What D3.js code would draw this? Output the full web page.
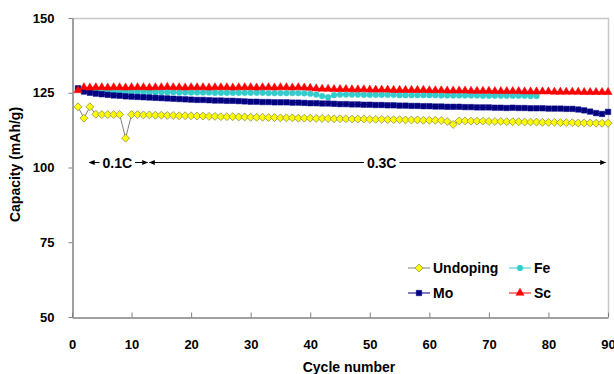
<!DOCTYPE html>
<html>
<head>
<meta charset="utf-8">
<script src="https://cdn.jsdelivr.net/npm/d3@7"></script>
<style>
  html, body { margin: 0; padding: 0; background: #fff; }
  svg { display: block; font-family: "Liberation Sans", Arial, sans-serif; font-weight: bold; }
</style>
</head>
<body>
<svg id="chart" width="614" height="374"></svg>
<script>
// Capacity (mAh/g) per cycle, cycle numbers start at 1
const undoping = [
  120.3, 116.5, 120.3, 117.8, 117.7, 117.7, 117.7, 117.7, 109.8, 117.7,
  117.7, 117.6, 117.6, 117.5, 117.5, 117.4, 117.4, 117.3, 117.3, 117.3,
  117.2, 117.2, 117.1, 117.1, 117.0, 117.0, 117.0, 116.9, 116.9, 116.8,
  116.8, 116.8, 116.7, 116.7, 116.6, 116.6, 116.6, 116.5, 116.5, 116.5,
  116.4, 116.4, 116.4, 116.3, 116.3, 116.3, 116.2, 116.2, 116.2, 116.1,
  116.1, 116.1, 116.0, 116.0, 116.0, 115.9, 115.9, 115.9, 115.8, 115.8,
  115.8, 115.7, 115.4, 114.4, 115.6, 115.6, 115.5, 115.5, 115.5, 115.4,
  115.4, 115.4, 115.3, 115.3, 115.3, 115.2, 115.2, 115.2, 115.1, 115.1,
  115.1, 115.0, 115.0, 115.0, 114.9, 114.9, 114.9, 114.8, 114.8, 114.8
];
const mo = [
  126.5, 125.4, 125.0, 124.7, 124.5, 124.3, 124.1, 124.0, 123.8, 123.7,
  123.6, 123.5, 123.4, 123.3, 123.2, 123.1, 123.0, 122.9, 122.8, 122.7,
  122.6, 122.6, 122.5, 122.4, 122.4, 122.3, 122.3, 122.2, 122.1, 122.0,
  122.0, 121.9, 121.9, 121.8, 121.8, 121.8, 121.7, 121.7, 121.6, 121.5,
  121.5, 121.4, 121.4, 121.3, 121.2, 121.2, 121.1, 121.1, 121.0, 121.0,
  120.9, 120.9, 120.8, 120.8, 120.7, 120.7, 120.6, 120.6, 120.5, 120.5,
  120.4, 120.4, 120.3, 120.3, 120.3, 120.2, 120.2, 120.1, 120.1, 120.1,
  120.0, 120.0, 119.9, 120.0, 119.9, 119.9, 119.8, 119.8, 119.8, 119.7,
  119.7, 119.7, 119.6, 119.6, 119.4, 119.1, 118.7, 118.2, 117.9, 118.6
];
const fe = [
  126.3, 125.6, 125.5, 125.5, 125.4, 125.4, 125.4, 125.3, 125.3, 125.3,
  125.3, 125.3, 125.2, 125.2, 125.2, 125.2, 125.2, 125.1, 125.1, 125.1,
  125.1, 125.1, 125.1, 125.0, 125.0, 125.0, 125.0, 125.0, 125.0, 125.0,
  125.0, 125.0, 124.9, 124.9, 124.9, 124.9, 124.9, 124.9, 124.8, 124.7,
  124.4, 123.9, 123.5, 124.2, 124.4, 124.4, 124.4, 124.4, 124.3, 124.3,
  124.3, 124.3, 124.3, 124.3, 124.2, 124.2, 124.2, 124.2, 124.2, 124.2,
  124.2, 124.1, 124.1, 124.1, 124.1, 124.1, 124.1, 124.1, 124.0, 124.0,
  124.0, 124.0, 124.0, 124.0, 124.0, 124.0, 123.9, 123.9
];
const sc = [
  125.8, 126.8, 126.7, 126.8, 126.8, 126.7, 126.8, 126.8, 126.7, 126.8,
  126.8, 126.8, 126.7, 126.8, 126.8, 126.9, 126.8, 126.8, 126.7, 126.8,
  126.8, 126.8, 126.7, 126.8, 126.8, 126.8, 126.7, 126.8, 126.8, 126.8,
  126.7, 126.8, 126.8, 126.7, 126.8, 126.8, 126.7, 126.8, 126.7, 126.6,
  126.4, 126.3, 126.3, 126.2, 126.2, 126.2, 126.1, 126.1, 126.1, 126.0,
  126.0, 126.0, 126.0, 125.9, 125.9, 125.9, 125.9, 125.9, 125.9, 125.8,
  125.8, 125.8, 125.7, 125.7, 125.7, 125.7, 125.6, 125.6, 125.6, 125.6,
  125.5, 125.5, 125.5, 125.5, 125.5, 125.4, 125.4, 125.4, 125.4, 125.4,
  125.3, 125.3, 125.3, 125.3, 125.3, 125.2, 125.2, 125.2, 125.2, 125.2
];

const xTicks = [0, 10, 20, 30, 40, 50, 60, 70, 80, 90];
const yTicks = [50, 75, 100, 125, 150];

// rate annotations: [from cycle, to cycle, label, label position]
const rates = [
  { from: 2.9, to: 12.7, label: '0.1C', at: 7.6 },
  { from: 13.0, to: 89.6, label: '0.3C', at: 52.0 }
];
const rateLevel = 102;

const series = [
  { name: 'Undoping', values: undoping, color: '#ffff00', line: '#808080', stroke: '#80804a', shape: 'diamond' },
  { name: 'Fe', values: fe, color: '#33cccc', line: '#33cccc', stroke: '#33cccc', shape: 'circle' },
  { name: 'Mo', values: mo, color: '#000080', line: '#000080', stroke: '#000080', shape: 'square' },
  { name: 'Sc', values: sc, color: '#ff0000', line: '#ff0000', stroke: '#ff0000', shape: 'triangle' }
];

const svg = d3.select('#chart');
const x = d3.scaleLinear().domain([0, 90]).range([72, 608]);
const y = d3.scaleLinear().domain([50, 150]).range([317, 18]);

// plot area border (top and right, light gray)
svg.append('path')
  .attr('d', `M${x(0)},${y(150) + 0.5}H${x(90) + 0.5}V${y(50)}`)
  .attr('fill', 'none')
  .attr('stroke', '#c8c8c8')
  .attr('stroke-width', 1.5);

// y axis
const yAxis = svg.append('g')
  .attr('transform', `translate(${x(0) + 0.5},0)`)
  .call(d3.axisLeft(y).tickValues(yTicks).tickSizeInner(4).tickSizeOuter(0).tickPadding(14));
yAxis.select('.domain').attr('stroke', '#808080').attr('stroke-width', 1.5);
yAxis.selectAll('.tick line').attr('stroke', '#808080');
yAxis.selectAll('.tick text')
  .attr('fill', '#000')
  .style('font-size', '13px')
  .style('font-family', '"Liberation Sans", Arial, sans-serif')
  .style('font-weight', 'bold');

// x axis, ticks pointing inward
const xAxis = svg.append('g')
  .attr('transform', `translate(0,${y(50) + 0.5})`)
  .call(d3.axisBottom(x).tickValues(xTicks).tickSizeInner(-5).tickSizeOuter(0).tickPadding(22));
xAxis.select('.domain').attr('stroke', '#808080').attr('stroke-width', 1.5);
xAxis.selectAll('.tick line').attr('stroke', '#808080');
xAxis.selectAll('.tick text')
  .attr('fill', '#000')
  .style('font-size', '13px')
  .style('font-family', '"Liberation Sans", Arial, sans-serif')
  .style('font-weight', 'bold');

// axis titles
svg.append('text')
  .attr('x', 349)
  .attr('y', 372)
  .attr('text-anchor', 'middle')
  .style('font-size', '14px')
  .text('Cycle number');

svg.append('text')
  .attr('transform', `translate(20,${(y(50) + y(150)) / 2 - 3}) rotate(-90)`)
  .attr('text-anchor', 'middle')
  .style('font-size', '14px')
  .text('Capacity (mAh/g)');

// marker shapes
const symbolFor = {
  diamond: d3.symbol().type(d3.symbolDiamond2).size(40),
  circle: d3.symbol().type(d3.symbolCircle).size(26),
  square: d3.symbol().type(d3.symbolSquare2).size(38),
  triangle: d3.symbol().type(d3.symbolTriangle2).size(48)
};

const line = d3.line()
  .x((d, i) => x(i + 1))
  .y(d => y(d));

// drawing order: undoping, fe, mo, sc
series.forEach(s => {
  const g = svg.append('g').attr('class', 'series');
  g.append('path')
    .attr('d', line(s.values))
    .attr('fill', 'none')
    .attr('stroke', s.line)
    .attr('stroke-width', 1);
  g.selectAll('path.mark')
    .data(s.values)
    .join('path')
    .attr('class', 'mark')
    .attr('transform', (d, i) => `translate(${x(i + 1)},${y(d)})`)
    .attr('d', symbolFor[s.shape]())
    .attr('fill', s.color)
    .attr('stroke', s.stroke)
    .attr('stroke-width', s.shape === 'diamond' ? 0.7 : 0.5);
});

// rate annotations with arrows
const defs = svg.append('defs');
defs.append('marker')
  .attr('id', 'arrow')
  .attr('viewBox', '0 0 10 10')
  .attr('refX', 9)
  .attr('refY', 5)
  .attr('markerWidth', 6)
  .attr('markerHeight', 6)
  .attr('orient', 'auto-start-reverse')
  .append('path')
  .attr('d', 'M0,1L10,5L0,9Z')
  .attr('fill', '#000');

rates.forEach(r => {
  const ly = Math.round(y(rateLevel)) + 0.5;
  const t = svg.append('text')
    .attr('x', x(r.at))
    .attr('y', ly + 5)
    .attr('text-anchor', 'middle')
    .style('font-size', '14px')
    .text(r.label);
  const bb = t.node().getBBox();
  svg.append('line')
    .attr('x1', x(r.from)).attr('x2', bb.x - 3)
    .attr('y1', ly).attr('y2', ly)
    .attr('stroke', '#000').attr('stroke-width', 1)
    .attr('marker-start', 'url(#arrow)');
  svg.append('line')
    .attr('x1', bb.x + bb.width + 3).attr('x2', x(r.to))
    .attr('y1', ly).attr('y2', ly)
    .attr('stroke', '#000').attr('stroke-width', 1)
    .attr('marker-end', 'url(#arrow)');
});

// legend, two columns
const legendPos = [
  { name: 'Undoping', lx: 408, ly: 268 },
  { name: 'Fe', lx: 509, ly: 268 },
  { name: 'Mo', lx: 408, ly: 293 },
  { name: 'Sc', lx: 509, ly: 293 }
];
legendPos.forEach(p => {
  const s = series.find(d => d.name === p.name);
  const g = svg.append('g').attr('transform', `translate(${p.lx},${p.ly})`);
  g.append('line')
    .attr('x1', 0).attr('x2', 22)
    .attr('stroke', s.line).attr('stroke-width', 1);
  g.append('path')
    .attr('transform', 'translate(11,0)')
    .attr('d', symbolFor[s.shape]())
    .attr('fill', s.color)
    .attr('stroke', s.stroke)
    .attr('stroke-width', s.shape === 'diamond' ? 0.7 : 0.5);
  g.append('text')
    .attr('x', 25)
    .attr('y', 5)
    .style('font-size', '14px')
    .text(s.name);
});
</script>
</body>
</html>
